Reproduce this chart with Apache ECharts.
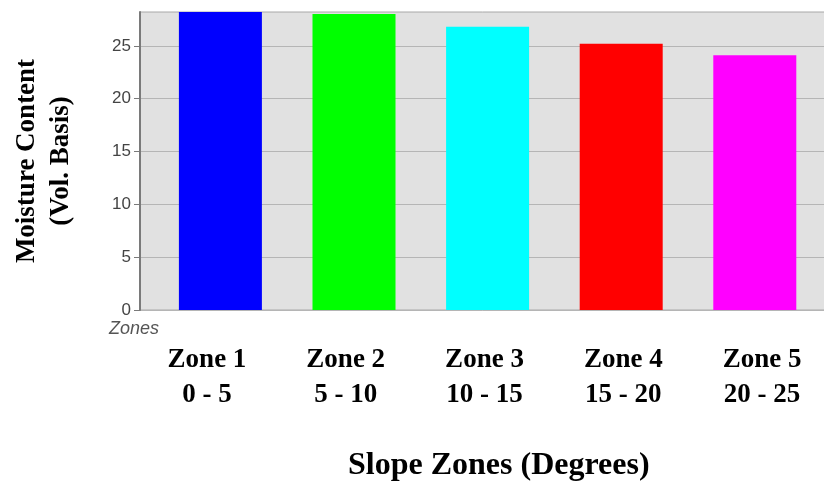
<!DOCTYPE html>
<html>
<head>
<meta charset="utf-8">
<script src="https://cdn.jsdelivr.net/npm/echarts@6/dist/echarts.min.js"></script>
<style>html,body{margin:0;padding:0;background:#fff;}#chart{width:824px;height:485px;}</style>
</head>
<body>
<div id="chart"></div>
<script>
const zoneNames = ['Zone 1', 'Zone 2', 'Zone 3', 'Zone 4', 'Zone 5'];
const slopeRanges = ['0 - 5', '5 - 10', '10 - 15', '15 - 20', '20 - 25'];
const moisture = [28.2, 28.0, 26.8, 25.2, 24.1];
const barColors = ['#0000ff', '#00ff00', '#00ffff', '#ff0000', '#ff00ff'];
const yTicks = [0, 5, 10, 15, 20, 25];
const yMax = 28.2;

const categories = zoneNames.map((z, i) => z + '\n' + slopeRanges[i]);
const serif = '"Liberation Serif", "Times New Roman", serif';
const sans = '"Liberation Sans", Arial, sans-serif';

const chart = echarts.init(document.getElementById('chart'), null, {renderer: 'canvas'});
chart.setOption({
  animation: false,
  title: {
    text: 'Slope Zones (Degrees)',
    left: 343, top: 445,
    textStyle: {fontFamily: serif, fontWeight: 'bold', fontSize: 32, color: '#000'}
  },
  graphic: [{
    type: 'text', left: 109, top: 320,
    style: {text: 'Zones', fontFamily: sans, fontStyle: 'italic', fontSize: 18, fill: '#555'}
  }],
  grid: [
    {left: 140, right: -5, top: 12, height: 298, show: true, backgroundColor: '#e1e1e1', borderColor: '#a8a8a8', borderWidth: 1, outerBoundsMode: 'none', containLabel: false},
    {left: 153.6, width: 668, top: 12, height: 298, outerBoundsMode: 'none', containLabel: false},
    {left: 137.6, width: 693.8, top: 12, height: 298, outerBoundsMode: 'none', containLabel: false}
  ],
  xAxis: [
    {gridIndex: 0, type: 'value', min: 0, max: 1, show: false},
    {gridIndex: 1, type: 'category', data: categories, show: false},
    {gridIndex: 2, type: 'category', data: categories,
      axisLine: {show: false}, axisTick: {show: false},
      axisLabel: {margin: 33, fontFamily: serif, fontWeight: 'bold', fontSize: 27, lineHeight: 35, color: '#000', interval: 0}}
  ],
  yAxis: [
    {gridIndex: 0, type: 'value', min: 0, max: yMax, interval: 5,
      name: 'Moisture Content\n(Vol. Basis)', nameLocation: 'middle', nameRotate: 90, nameGap: 62,
      nameTextStyle: {fontFamily: serif, fontWeight: 'bold', fontSize: 27, lineHeight: 34, color: '#000'},
      axisLine: {show: true, lineStyle: {color: '#7a7a7a', width: 2}},
      axisTick: {show: true, length: 6, lineStyle: {color: '#7a7a7a'}, customValues: yTicks},
      axisLabel: {fontFamily: sans, fontSize: 17, color: '#444', margin: 9, customValues: yTicks},
      splitLine: {show: true, lineStyle: {color: '#b5b5b5', width: 1}}},
    {gridIndex: 1, type: 'value', min: 0, max: yMax, show: false},
    {gridIndex: 2, type: 'value', min: 0, max: yMax, show: false}
  ],
  series: [{
    type: 'bar', xAxisIndex: 1, yAxisIndex: 1,
    barWidth: 83,
    data: moisture.map((v, i) => ({value: v, itemStyle: {color: barColors[i]}}))
  }]
});
</script>
</body>
</html>
